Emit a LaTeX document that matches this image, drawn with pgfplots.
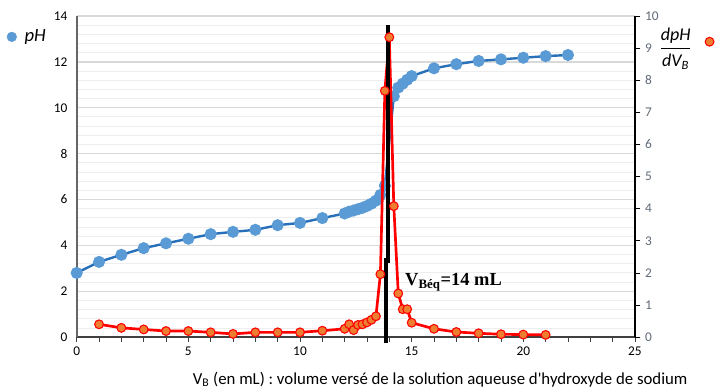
\documentclass[border=0pt]{standalone}
\usepackage{pgfplots}
\pgfplotsset{compat=1.18}
\usepackage{fontspec}
\setmainfont{Carlito}
\newfontfamily\serifb{Liberation Serif}
\definecolor{phline}{RGB}{40,112,185}
\definecolor{phmark}{RGB}{91,155,213}
\definecolor{dmark}{RGB}{237,125,49}
\definecolor{gmaj}{RGB}{217,217,217}
\definecolor{gmin}{RGB}{238,238,238}
\definecolor{rlab}{RGB}{95,105,118}
\begin{document}
\begin{tikzpicture}
\useasboundingbox (-57.5pt,-40.5pt) rectangle (482.25pt,252.75pt);
\pgfplotsset{
  every axis/.append style={
    scale only axis, width=418.5pt, height=240.75pt,
    xmin=0, xmax=25,
    /pgf/number format/assume math mode=true,
    tick label style={font=\fontsize{10}{12}\selectfont},
  }
}
\begin{axis}[
  ymin=0, ymax=14,
  xtick={0,5,...,25}, minor x tick num=4,
  ytick={0,2,...,14}, minor y tick num=4,
  ymajorgrids, yminorgrids,
  major grid style={gmaj, line width=1.1pt},
  minor grid style={gmin, line width=0.7pt},
  axis x line*=bottom, axis y line*=left,
  x axis line style={-, black!75, line width=1pt},
  y axis line style={-, black!60, line width=1.5pt},
  tick align=outside,
  major tick length=3.5pt, minor tick length=3.5pt,
  xtick style={black!75, line width=0.6pt},
  minor x tick style={black!75, line width=0.6pt},
  ytick style={draw=none}, minor y tick style={draw=none},
  xlabel={V\textsubscript{B} (en mL) : volume versé de la solution aqueuse d\textquotesingle hydroxyde de sodium},
  xlabel style={at={(axis description cs:0.651,-0.131)}, anchor=center, font=\fontsize{12.6}{14}\selectfont},
  legend style={at={(axis description cs:-0.05,0.935)}, anchor=east, draw=none, fill=none,
    font=\fontsize{14}{16}\selectfont, inner sep=0pt},
]
\addlegendimage{only marks, mark=*, mark size=3.6pt, mark options={fill=phmark, draw=phmark}}
\addlegendentry{\hspace{4pt}\textit{pH}}
\addplot[forget plot, phline, line width=1.8pt, mark=*, mark size=3.6pt,
  mark options={fill=phmark, draw=phmark}] coordinates {
(0,2.8) (1,3.28) (2,3.59) (3,3.88) (4,4.09) (5,4.29) (6,4.49) (7,4.59)
(8,4.68) (9,4.88) (10,4.98) (11,5.19) (12,5.39) (12.2,5.47) (12.4,5.52)
(12.6,5.58) (12.8,5.64) (13.0,5.72) (13.2,5.82) (13.4,5.95) (13.6,6.2)
(13.8,6.6) (14.2,10.5) (14.4,10.88) (14.6,11.05) (14.8,11.22) (15,11.38)
(16,11.72) (17,11.9) (18,12.04) (19,12.11) (20,12.18) (21,12.25) (22,12.3)
};
\end{axis}
\begin{axis}[
  ymin=0, ymax=10,
  axis x line=none, axis y line*=right,
  y axis line style={-, black, line width=1pt},
  ytick={0,1,...,10}, tick align=outside, major tick length=4pt,
  ytick style={black, line width=0.6pt},
  yticklabel style={rlab},
  clip=false,
  legend plot pos=right,
  legend style={at={(axis description cs:1.142,0.92)}, anchor=east, draw=none, fill=none,
    font=\fontsize{13.5}{15}\selectfont, inner sep=0pt},
]
\addlegendimage{only marks, mark=*, mark size=3.3pt, mark options={fill=dmark, draw=red, line width=0.8pt}}
\addlegendentry{$\displaystyle\frac{\mbox{\itshape dpH}}{\mbox{\itshape dV\textsubscript{B}}}\mkern1mu$\rule{7pt}{0pt}}
\addplot[forget plot, red, line width=2pt, mark=*, mark size=3.3pt,
  mark options={fill=dmark, draw=red, line width=0.8pt}] coordinates {
(1,0.40) (2,0.29) (3,0.24) (4,0.19) (5,0.19) (6,0.15) (7,0.10) (8,0.15)
(9,0.15) (10,0.15) (11,0.20) (12,0.26) (12.2,0.40) (12.4,0.22) (12.6,0.38)
(12.8,0.40) (13.0,0.46) (13.2,0.54) (13.4,0.65) (13.6,1.96) (13.8,7.67)
(14.0,9.34) (14.2,4.08) (14.4,1.36) (14.6,0.87) (14.8,0.87) (15,0.45)
(16,0.26) (17,0.16) (18,0.12) (19,0.09) (20,0.08) (21,0.07)
};
\draw[black, line width=2.7pt] (axis cs:13.85,-0.19) -- (axis cs:13.85,2.45);
\draw[black, line width=2.7pt] (axis cs:13.93,2.3) -- (axis cs:13.93,9.72);
\node[anchor=west, inner sep=0pt, font=\serifb\bfseries\fontsize{13.8}{15}\selectfont]
  at (axis cs:14.7,1.72) {V\textsubscript{Béq}=14 mL};
\end{axis}
\end{tikzpicture}
\end{document}
